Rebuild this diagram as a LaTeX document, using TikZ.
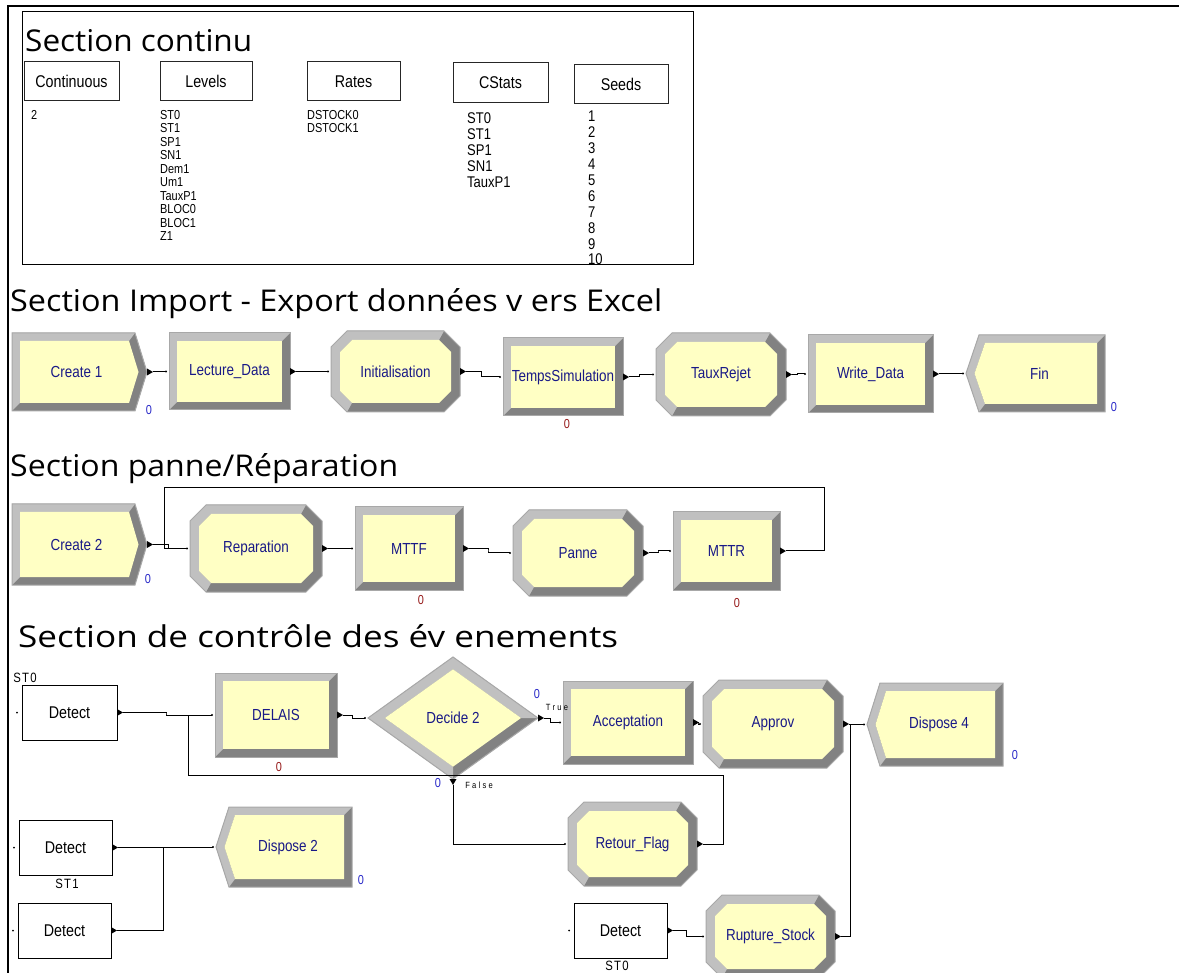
\documentclass[tikz,border=0pt]{standalone}
\usepackage{graphicx}
\usepackage{fontspec}
\setmainfont{Liberation Sans}[FakeStretch=0.84]
\newfontfamily\titlefont{Open Sans}
\usetikzlibrary{calc,fit}
\definecolor{yel}{RGB}{255,255,196}
\definecolor{ltg}{RGB}{192,192,192}
\definecolor{dkg}{RGB}{130,130,130}
\definecolor{edg}{RGB}{168,168,168}
\definecolor{navy}{RGB}{25,25,135}
\definecolor{cblue}{RGB}{40,40,200}
\definecolor{cred}{RGB}{150,25,25}

\tikzset{
  hold/.style={inner sep=0pt, outer sep=0pt, draw=none},
  modtxt/.style={font=\fontsize{16}{18}\selectfont, text=navy, inner sep=0pt},
  dettxt/.style={font=\fontsize{17}{19}\selectfont, text=black, inner sep=0pt},
  boxtxt/.style={font=\fontsize{17}{19}\selectfont, text=black, inner sep=0pt},
  listtxt/.style={font=\fontsize{13}{13.5}\selectfont, align=left, anchor=north west, inner sep=0pt},
  listbig/.style={font=\fontsize{15.5}{16}\selectfont, align=left, anchor=north west, inner sep=0pt},
  listseed/.style={font=\fontsize{15.5}{15.9}\selectfont, align=left, anchor=north west, inner sep=0pt},
  titletxt/.style={font=\titlefont\fontsize{30}{34}\selectfont, anchor=base west, inner sep=0pt},
  cntb/.style={font=\fontsize{13}{13}\selectfont, text=cblue, inner sep=0pt},
  cntr/.style={font=\fontsize{13}{13}\selectfont, text=cred, inner sep=0pt},
  smalllab/.style={font=\fontsize{9}{10}\selectfont\addfontfeature{LetterSpace=25}, inner sep=0pt},
  stlab/.style={font=\fontsize{13.5}{14}\selectfont\addfontfeature{LetterSpace=10}, inner sep=0pt},
  conn/.style={draw=black, line width=1pt},
  cbox/.style={draw=black!85, line width=1pt, inner sep=0pt, outer sep=0pt},
}

% Process-like rectangle module
\newcommand\ProcMod[6]{%
  \fill[dkg] (#2,#3) rectangle (#4,#5);
  \fill[ltg] (#2,#5) -- (#2,#3) -- (#4,#3) -- (#4-8,#3+8) -- (#2+8,#5-8) -- cycle;
  \fill[yel] (#2+8,#3+8) rectangle (#4-8,#5-8);
  \draw[edg, line width=1pt] (#2,#3) rectangle (#4,#5);
  \node[hold, fit={(#2,#3) (#4,#5)}] (#1) {};
  \node[modtxt] (#1-t) at (#1.center) {#6};
}
% Assign-like octagon module
\newcommand\AssignMod[6]{%
  \fill[dkg] (#2+16,#3) -- (#4-16,#3) -- (#4,#3+16) -- (#4,#5-16) -- (#4-16,#5) -- (#2+16,#5) -- (#2,#5-16) -- (#2,#3+16) -- cycle;
  \fill[ltg] (#2+16,#5) -- (#2,#5-16) -- (#2,#3+16) -- (#2+16,#3) -- (#4-16,#3) -- (#4-21,#3+9) -- (#2+21,#3+9) -- (#2+9,#3+21) -- (#2+9,#5-21) -- (#2+21,#5-9) -- cycle;
  \fill[yel] (#2+21,#3+9) -- (#4-21,#3+9) -- (#4-9,#3+21) -- (#4-9,#5-21) -- (#4-21,#5-9) -- (#2+21,#5-9) -- (#2+9,#5-21) -- (#2+9,#3+21) -- cycle;
  \draw[edg, line width=1pt] (#2+16,#3) -- (#4-16,#3) -- (#4,#3+16) -- (#4,#5-16) -- (#4-16,#5) -- (#2+16,#5) -- (#2,#5-16) -- (#2,#3+16) -- cycle;
  \node[hold, fit={(#2,#3) (#4,#5)}] (#1) {};
  \node[modtxt] (#1-t) at (#1.center) {#6};
}
% Create module, pointed on the right (#4 = tip)
\newcommand\CreateMod[6]{%
  \fill[dkg] (#2,#3) -- (#4-12,#3) -- (#4,{(#3+#5)/2}) -- (#4-12,#5) -- (#2,#5) -- cycle;
  \fill[ltg] (#2,#5) -- (#2,#3) -- (#4-12,#3) -- (#4-18,#3+8) -- (#2+8,#3+8) -- (#2+8,#5-8) -- cycle;
  \fill[yel] (#2+8,#3+8) -- (#4-18,#3+8) -- (#4-8.5,{(#3+#5)/2}) -- (#4-18,#5-8) -- (#2+8,#5-8) -- cycle;
  \draw[edg, line width=1pt] (#2,#3) -- (#4-12,#3) -- (#4,{(#3+#5)/2}) -- (#4-12,#5) -- (#2,#5) -- cycle;
  \node[hold, fit={(#2,#3) (#4,#5)}] (#1) {};
  \node[modtxt] (#1-t) at ([xshift=-3pt]#1.center) {#6};
}
% Dispose module, pointed on the left (#2 = tip)
\newcommand\DisposeMod[6]{%
  \fill[dkg] (#2,{(#3+#5)/2}) -- (#2+13,#3) -- (#4,#3) -- (#4,#5) -- (#2+13,#5) -- cycle;
  \fill[ltg] (#2+13,#5) -- (#2,{(#3+#5)/2}) -- (#2+13,#3) -- (#4,#3) -- (#4-8,#3+8) -- (#2+19,#3+8) -- (#2+8.5,{(#3+#5)/2}) -- (#2+19,#5-8) -- cycle;
  \fill[yel] (#2+8.5,{(#3+#5)/2}) -- (#2+19,#3+8) -- (#4-8,#3+8) -- (#4-8,#5-8) -- (#2+19,#5-8) -- cycle;
  \draw[edg, line width=1pt] (#2,{(#3+#5)/2}) -- (#2+13,#3) -- (#4,#3) -- (#4,#5) -- (#2+13,#5) -- cycle;
  \node[hold, fit={(#2,#3) (#4,#5)}] (#1) {};
  \node[modtxt] (#1-t) at ([xshift=4pt]#1.center) {#6};
}
% Detect block
\newcommand\DetectMod[5]{%
  \draw[black, line width=1pt, fill=white] (#2,#3) rectangle (#4,#5);
  \node[hold, fit={(#2,#3) (#4,#5)}] (#1) {};
  \node[dettxt] (#1-t) at (#1.center) {Detect};
  \fill ([xshift=-5pt]#1.west) circle (1pt);
}
% box of the continuous section
\newcommand\CBox[6]{%
  \node[cbox, fit={(#2,#3) (#4,#5)}] (#1) {};
  \node[boxtxt] (#1-t) at (#1.center) {#6};
}
\newcommand\ExitR[1]{\fill (#1) ++(0,-3.5) -- ++(6,3.5) -- ++(-6,3.5) -- cycle;}
\newcommand\ExitD[1]{\fill (#1) ++(-3.5,0) -- ++(3.5,6) -- ++(3.5,-6) -- cycle;}
\newcommand\EntryDot[1]{\fill ([xshift=-3pt]#1) circle (1.1pt);}
\newcommand\Link[2]{%
  \draw[conn] ([xshift=6pt]#1.east) -| ($(#1.east)!.5!(#2.west)$) |- ([xshift=-3pt]#2.west);
  \ExitR{#1.east}\EntryDot{#2.west}}

\begin{document}
\begin{tikzpicture}[x=1pt,y=-1pt]
\clip (0,0) rectangle (1179,973);
\fill[white] (0,0) rectangle (1179,973);

% outer frame
\draw[black, line width=2pt] (8,973) -- (8,6) -- (1179,6);

% ---------------- Section continu ----------------
\draw[black, line width=1pt] (22,12) rectangle (693,265);
\node[titletxt] (t1) at (25,52) {\resizebox{227pt}{\height}{Section continu}};
\CBox{bcont}{24}{62}{119}{101}{Continuous}
\CBox{blev}{160}{62}{252}{101}{Levels}
\CBox{brat}{307}{62}{400}{101}{Rates}
\CBox{bcst}{453}{63}{548}{103}{CStats}
\CBox{bsee}{574}{65}{668}{104}{Seeds}
\node[listtxt] (lcont) at (31,110) {2};
\node[listtxt] (llev) at (160,110) {ST0\\ST1\\SP1\\SN1\\Dem1\\Um1\\TauxP1\\BLOC0\\BLOC1\\Z1};
\node[listtxt] (lrat) at (307,110) {DSTOCK0\\DSTOCK1};
\node[listbig] (lcst) at (467,112) {ST0\\ST1\\SP1\\SN1\\TauxP1};
\node[listseed] (lsee) at (588,111) {1\\2\\3\\4\\5\\6\\7\\8\\9\\10};

% ---------------- Section Import - Export ----------------
\node[titletxt] (t2) at (10,312) {\resizebox{652pt}{\height}{Section Import - Export données v ers Excel}};
\CreateMod{c1}{12}{333}{147}{411}{Create 1}
\ProcMod{ld}{169}{333}{290}{410}{Lecture\_Data}
\AssignMod{ini}{331}{331}{460}{412}{Initialisation}
\ProcMod{ts}{503}{338}{623}{416}{TempsSimulation}
\AssignMod{tr}{656}{333}{786}{416}{TauxRejet}
\ProcMod{wd}{808}{335}{933}{413}{Write\_Data}
\DisposeMod{fin}{966}{335}{1105}{412}{Fin}
\Link{c1}{ld}
\Link{ld}{ini}
\Link{ini}{ts}
\Link{ts}{tr}
\Link{tr}{wd}
\Link{wd}{fin}
\node[cntb] (n1) at (149,410) {0};
\node[cntr] (n2) at (567,424) {0};
\node[cntb] (n3) at (1114,407) {0};

% ---------------- Section panne/Reparation ----------------
\node[titletxt] (t3) at (10,477) {\resizebox{388pt}{\height}{Section panne/Réparation}};
\CreateMod{c2}{12}{504}{147}{585}{Create 2}
\AssignMod{rep}{190}{505}{322}{592}{Reparation}
\ProcMod{mttf}{355}{507}{463}{590}{MTTF}
\AssignMod{pan}{513}{510}{643}{596}{Panne}
\ProcMod{mttr}{673}{512}{780}{590}{MTTR}
\Link{c2}{rep}
\Link{rep}{mttf}
\Link{mttf}{pan}
\Link{pan}{mttr}
\coordinate (lpr) at (824,488);
\coordinate (lpl) at (164,488);
\draw[conn] ([xshift=6pt]mttr.east) -| (lpr) -- (lpl) |- ([xshift=-3pt]rep.west);
\ExitR{mttr.east}
\node[cntb] (n4) at (148,579) {0};
\node[cntr] (n5) at (421,600) {0};
\node[cntr] (n6) at (737,603) {0};

% ---------------- Section de controle des evenements ----------------
\node[titletxt] (t4) at (18,647) {\resizebox{600pt}{\height}{Section de contrôle des év enements}};
\node[stlab] (s1) at (25,678) {ST0};
\DetectMod{dt1}{22}{685}{117}{740}
\ProcMod{del}{215}{673}{337}{757}{DELAIS}
% Decide 2
\fill[dkg] (368,718) -- (453,657) -- (538,718) -- (453,779) -- cycle;
\fill[ltg] (453,779) -- (368,718) -- (453,657) -- (538,718) -- (521,718) -- (453,669.3) -- (385,718) -- (453,766.7) -- cycle;
\fill[yel] (385,718) -- (453,669.3) -- (521,718) -- (453,766.7) -- cycle;
\draw[edg, line width=1pt] (368,718) -- (453,657) -- (538,718) -- (453,779) -- cycle;
\node[hold, fit={(368,657) (538,779)}] (dec) {};
\node[modtxt] (dec-t) at (dec.center) {Decide 2};

\ProcMod{acc}{563}{681}{693}{764}{Acceptation}
\AssignMod{apv}{703}{680}{843}{768}{Approv}
\DisposeMod{d4}{867}{683}{1003}{766}{Dispose 4}
\AssignMod{ret}{568}{802}{697}{886}{Retour\_Flag}
\DetectMod{dt2}{19}{820}{112}{875}
\node[stlab] (s2) at (67,884) {ST1};
\DisposeMod{d2}{216}{807}{352}{887}{Dispose 2}
\DetectMod{dt3}{18}{903}{111}{958}
\DetectMod{dt4}{574}{903}{667}{958}
\node[stlab] (s3) at (617,965.5) {ST0};
\AssignMod{rup}{706}{895}{835}{978}{Rupture\_Stock}

% connectors
\Link{dt1}{del}
\coordinate (j1a) at (723,775);
\coordinate (j1) at (188,775);
\draw[conn] ([xshift=6pt]ret.east) -| (j1a) -- (j1) |- ([xshift=-3pt]del.west);
\ExitR{ret.east}
\Link{del}{dec}
\Link{dec}{acc}
\draw[conn] ([yshift=-6pt]dec.south) |- ([xshift=-3pt]ret.west);
\ExitD{dec.south}
\EntryDot{ret.west}
\Link{acc}{apv}
\Link{apv}{d4}
\coordinate (j3) at (850,724);
\draw[conn] ([xshift=6pt]rup.east) -| (j3);
\ExitR{rup.east}
\Link{dt2}{d2}
\coordinate (j2) at (163,847.5);
\draw[conn] ([xshift=6pt]dt3.east) -| (j2);
\ExitR{dt3.east}
\Link{dt4}{rup}

\node[smalllab] (tt) at (557,707) {True};
\node[smalllab] (ff) at (479,785) {False};
\node[cntb] (n7) at (537,694) {0};
\node[cntb] (n8) at (438,783) {0};
\node[cntr] (n9) at (279,767) {0};
\node[cntb] (n10) at (1015,755) {0};
\node[cntb] (n11) at (361,880) {0};
\end{tikzpicture}
\end{document}
